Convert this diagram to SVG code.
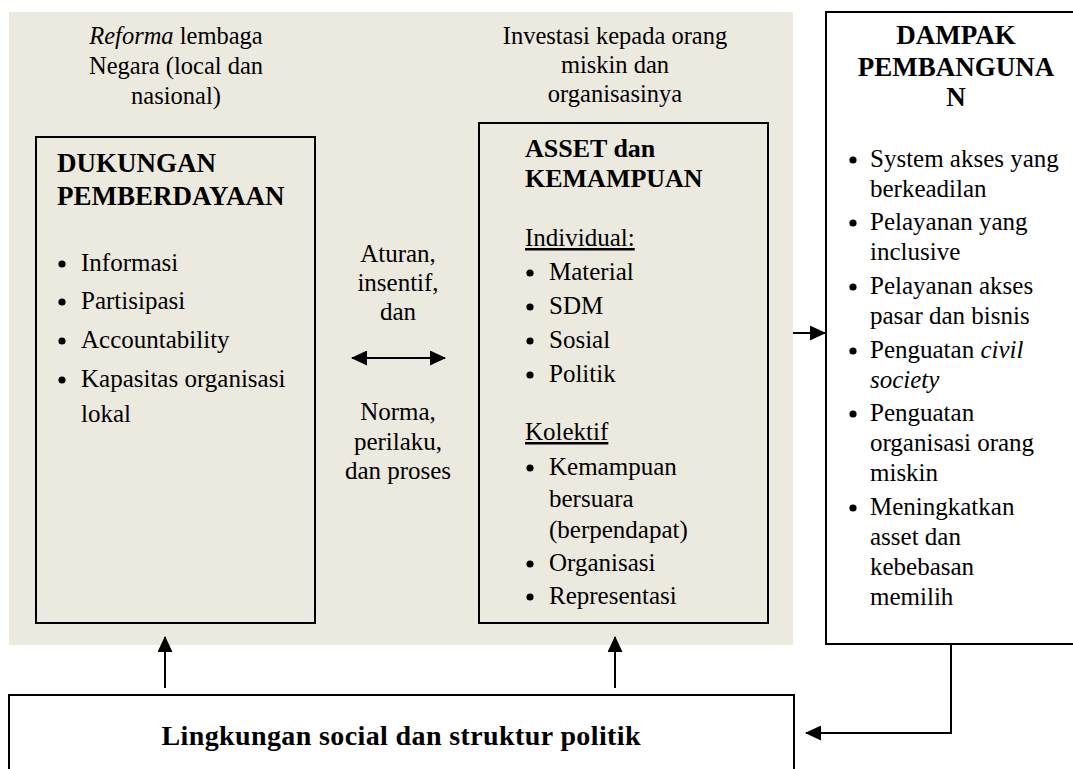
<svg xmlns="http://www.w3.org/2000/svg" width="1073" height="769" viewBox="0 0 1073 769">
<style>
text{font-family:"Liberation Serif","Times New Roman",serif;fill:#000;}
.t{font-size:25px;}
.h{font-size:24.5px;}
.b{font-weight:bold;font-size:26.5px;}
.c{text-anchor:middle;}
.box{fill:none;stroke:#000;stroke-width:2;}
.wbox{fill:#fff;stroke:#000;stroke-width:2;}
.ln{fill:none;stroke:#000;stroke-width:2;}
.dot{fill:#000;}
</style>
<defs>
<marker id="ah" viewBox="0 0 16 15" refX="15" refY="7.5" markerWidth="16" markerHeight="15" markerUnits="userSpaceOnUse" orient="auto-start-reverse">
<path d="M0,0 L16,7.5 L0,15 z" fill="#000"/>
</marker>
</defs>
<rect width="1073" height="769" fill="#fff"/>
<rect id="bg" x="9" y="12" width="784" height="633" fill="#ECE9DF"/>

<g id="header-left">
<text class="h c" x="176" y="44"><tspan font-style="italic">Reforma</tspan> lembaga</text>
<text class="h c" x="176" y="74">Negara (local dan</text>
<text class="h c" x="176" y="104">nasional)</text>
</g>

<g id="header-mid">
<text class="h c" x="615" y="44">Investasi kepada orang</text>
<text class="h c" x="615" y="73">miskin dan</text>
<text class="h c" x="615" y="102">organisasinya</text>
</g>

<g id="node-dukungan">
<rect class="box" x="36" y="137" width="279" height="486"/>
<text class="b" x="57" y="172" style="font-size:27px">DUKUNGAN</text>
<text class="b" x="57" y="205" style="font-size:27px">PEMBERDAYAAN</text>
<circle class="dot" cx="62" cy="264" r="3.6"/><text class="t" x="81" y="271">Informasi</text>
<circle class="dot" cx="62" cy="302" r="3.6"/><text class="t" x="81" y="309">Partisipasi</text>
<circle class="dot" cx="62" cy="341" r="3.6"/><text class="t" x="81" y="348">Accountability</text>
<circle class="dot" cx="62" cy="380" r="3.6"/><text class="t" x="81" y="387">Kapasitas organisasi</text>
<text class="t" x="81" y="422">lokal</text>
</g>

<g id="label-mid">
<text class="t c" x="398" y="262">Aturan,</text>
<text class="t c" x="398" y="291">insentif,</text>
<text class="t c" x="398" y="320">dan</text>
<text class="t c" x="398" y="420">Norma,</text>
<text class="t c" x="398" y="450">perilaku,</text>
<text class="t c" x="398" y="479">dan proses</text>
</g>

<g id="node-asset">
<rect class="box" x="479" y="123" width="289" height="500"/>
<text class="b" x="525" y="157" style="font-size:26px">ASSET dan</text>
<text class="b" x="525" y="187" style="font-size:26px">KEMAMPUAN</text>
<text class="t" x="525" y="246" text-decoration="underline">Individual:</text>
<circle class="dot" cx="530" cy="273" r="3.6"/><text class="t" x="549" y="280">Material</text>
<circle class="dot" cx="530" cy="307" r="3.6"/><text class="t" x="549" y="314">SDM</text>
<circle class="dot" cx="530" cy="341" r="3.6"/><text class="t" x="549" y="348">Sosial</text>
<circle class="dot" cx="530" cy="375" r="3.6"/><text class="t" x="549" y="382">Politik</text>
<text class="t" x="525" y="440" text-decoration="underline">Kolektif</text>
<circle class="dot" cx="530" cy="468" r="3.6"/><text class="t" x="549" y="475">Kemampuan</text>
<text class="t" x="549" y="507">bersuara</text>
<text class="t" x="549" y="538">(berpendapat)</text>
<circle class="dot" cx="530" cy="564" r="3.6"/><text class="t" x="549" y="571">Organisasi</text>
<circle class="dot" cx="530" cy="597" r="3.6"/><text class="t" x="549" y="604">Representasi</text>
</g>

<g id="node-dampak">
<rect class="wbox" x="826" y="12" width="260" height="632"/>
<text class="b c" x="956" y="44" style="font-size:27px">DAMPAK</text>
<text class="b c" x="956" y="76" style="font-size:27px">PEMBANGUNA</text>
<text class="b c" x="956" y="106" style="font-size:27px">N</text>
<circle class="dot" cx="853" cy="160" r="3.6"/><text class="t" x="870" y="167">System akses yang</text>
<text class="t" x="870" y="197">berkeadilan</text>
<circle class="dot" cx="853" cy="223" r="3.6"/><text class="t" x="870" y="230">Pelayanan yang</text>
<text class="t" x="870" y="260">inclusive</text>
<circle class="dot" cx="853" cy="287" r="3.6"/><text class="t" x="870" y="294">Pelayanan akses</text>
<text class="t" x="870" y="324">pasar dan bisnis</text>
<circle class="dot" cx="853" cy="351" r="3.6"/><text class="t" x="870" y="358">Penguatan <tspan font-style="italic">civil</tspan></text>
<text class="t" x="870" y="388" font-style="italic">society</text>
<circle class="dot" cx="853" cy="414" r="3.6"/><text class="t" x="870" y="421">Penguatan</text>
<text class="t" x="870" y="451">organisasi orang</text>
<text class="t" x="870" y="481">miskin</text>
<circle class="dot" cx="853" cy="508" r="3.6"/><text class="t" x="870" y="515">Meningkatkan</text>
<text class="t" x="870" y="545">asset dan</text>
<text class="t" x="870" y="575">kebebasan</text>
<text class="t" x="870" y="605">memilih</text>
</g>

<g id="node-lingkungan">
<rect class="wbox" x="9" y="695" width="785" height="90"/>
<text class="b c" x="401" y="745" style="font-size:28px" textLength="479" lengthAdjust="spacing">Lingkungan social dan struktur politik</text>
</g>

<g id="connectors">
<line class="ln" x1="352" y1="358" x2="445" y2="358" marker-start="url(#ah)" marker-end="url(#ah)"/>
<line class="ln" x1="793" y1="333" x2="825" y2="333" marker-end="url(#ah)"/>
<line class="ln" x1="165" y1="688" x2="165" y2="637" marker-end="url(#ah)"/>
<line class="ln" x1="615" y1="688" x2="615" y2="637" marker-end="url(#ah)"/>
<polyline class="ln" points="951,645 951,733 806,733" marker-end="url(#ah)"/>
</g>
</svg>
